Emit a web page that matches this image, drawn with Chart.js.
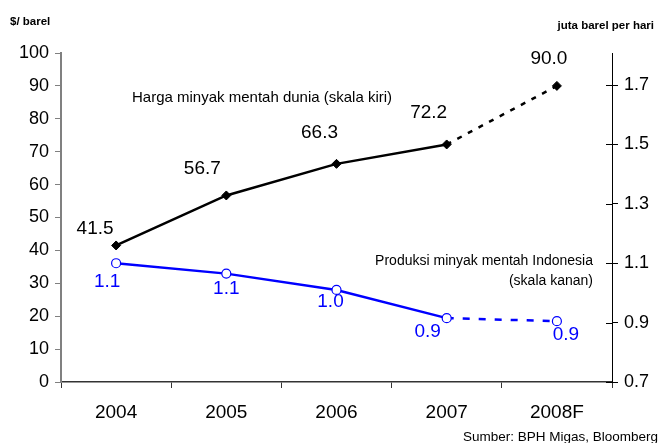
<!DOCTYPE html>
<html>
<head>
<meta charset="utf-8">
<script src="https://cdn.jsdelivr.net/npm/chart.js@4/dist/chart.umd.min.js"></script>
<style>
  html, body { margin: 0; padding: 0; background: #fff; }
  #wrap { width: 660px; height: 443px; }
</style>
</head>
<body>
<div id="wrap"><canvas id="chart" width="660" height="443"></canvas></div>
<script>
// data
const years      = ["2004", "2005", "2006", "2007", "2008F"]
const oilPrice   = [41.5, 56.7, 66.3, 72.2, 90.0]
const priceText  = ["41.5", "56.7", "66.3", "72.2", "90.0"]
const production = [1.10, 1.065, 1.01, 0.915, 0.905]
const prodText   = ["1.1", "1.1", "1.0", "0.9", "0.9"]
const rightTicks = [0.7, 0.9, 1.1, 1.3, 1.5, 1.7]

// label offsets (px) relative to each point
const priceOffsets = [[-21, -17], [-24, -27], [-17, -31], [-18, -32], [-8, -27]]
const prodOffsets  = [[-9, 19], [0, 15], [-6, 12], [-19, 14], [9, 14]]

const FONT = "'Liberation Sans', Arial, sans-serif"

// ─── LABEL PLUGIN ──────────────────────────────────────────────────────────
const labelPlugin = {
  id: "labels",
  afterDatasetsDraw(chart) {
    const ctx = chart.ctx
    ctx.save()
    ctx.textAlign = "center"
    ctx.textBaseline = "middle"
    ctx.font = "19px " + FONT

    const m0 = chart.getDatasetMeta(0)
    ctx.fillStyle = "#000"
    m0.data.forEach((pt, i) => {
      ctx.fillText(priceText[i], pt.x + priceOffsets[i][0], pt.y + priceOffsets[i][1])
    })

    const m1 = chart.getDatasetMeta(1)
    ctx.fillStyle = "#0000ff"
    m1.data.forEach((pt, i) => {
      ctx.fillText(prodText[i], pt.x + prodOffsets[i][0], pt.y + prodOffsets[i][1])
    })

    // annotations
    ctx.fillStyle = "#000"
    ctx.font = "15px " + FONT
    ctx.textAlign = "left"
    ctx.fillText("Harga minyak mentah dunia (skala kiri)", 132, 98)
    ctx.font = "14px " + FONT
    ctx.textAlign = "right"
    ctx.fillText("Produksi minyak mentah Indonesia", 593, 261)
    ctx.fillText("(skala kanan)", 593, 281)

    // axis titles & source
    ctx.font = "bold 11.5px " + FONT
    ctx.textAlign = "left"
    ctx.fillText("$/ barel", 10, 22)
    ctx.textAlign = "right"
    ctx.fillText("juta barel per hari", 654, 26)
    ctx.font = "13.5px " + FONT
    ctx.fillText("Sumber: BPH Migas, Bloomberg", 658, 437)

    // right axis ticks crossing inward
    const y1 = chart.scales.y1
    ctx.strokeStyle = "#000"
    ctx.lineWidth = 1
    rightTicks.forEach(v => {
      const y = Math.round(y1.getPixelForValue(v)) + 0.5
      ctx.beginPath()
      ctx.moveTo(y1.left - 6, y)
      ctx.lineTo(y1.left, y)
      ctx.stroke()
    })
    ctx.restore()
  }
}

// ─── CHART ─────────────────────────────────────────────────────────────────
new Chart(document.getElementById("chart"), {
  type: "line",
  data: {
    labels: years,
    datasets: [
      {
        label: "Harga minyak mentah dunia",
        data: oilPrice,
        yAxisID: "y",
        borderColor: "#000",
        backgroundColor: "#000",
        borderWidth: 2.5,
        pointStyle: "rectRot",
        pointRadius: 4.5,
        pointBorderWidth: 1,
        segment: { borderDash: c => c.p1DataIndex === 4 ? [5, 7] : undefined },
      },
      {
        label: "Produksi minyak mentah Indonesia",
        data: production,
        yAxisID: "y1",
        borderColor: "#0000ff",
        backgroundColor: "#fff",
        borderWidth: 2.5,
        pointStyle: "circle",
        pointRadius: 4.5,
        pointBorderWidth: 1.2,
        segment: { borderDash: c => c.p1DataIndex === 4 ? [7, 9] : undefined },
      },
    ],
  },
  options: {
    responsive: false,
    animation: false,
    layout: { padding: { top: 53, left: 0, right: 0, bottom: 0 } },
    plugins: {
      legend:  { display: false },
      tooltip: { enabled: false },
    },
    scales: {
      x: {
        offset: true,
        grid: { display: true, drawOnChartArea: false, color: "#333", tickLength: 6, offset: true },
        border: { color: "#333", width: 1.5 },
        ticks: { color: "#000", font: { family: FONT, size: 19 }, padding: 13 },
        afterFit: s => { s.height = 61 },
      },
      y: {
        position: "left",
        min: 0, max: 100,
        grid: { drawOnChartArea: false, color: "#808080", tickLength: 6 },
        border: { color: "#808080", width: 2 },
        ticks: { stepSize: 10, color: "#000", font: { family: FONT, size: 18 }, padding: 6 },
        afterFit: s => { s.width = 61 },
      },
      y1: {
        position: "right",
        min: 0.7, max: 1.808,
        grid: { drawOnChartArea: false, color: "#000", tickLength: 6 },
        border: { color: "#000", width: 1 },
        ticks: {
          color: "#000", font: { family: FONT, size: 18 }, padding: 6,
          callback: v => v.toFixed(1),
        },
        afterBuildTicks: s => { s.ticks = rightTicks.map(v => ({ value: v })) },
        afterFit: s => { s.width = 48 },
      },
    },
  },
  plugins: [labelPlugin],
})
</script>
</body>
</html>
